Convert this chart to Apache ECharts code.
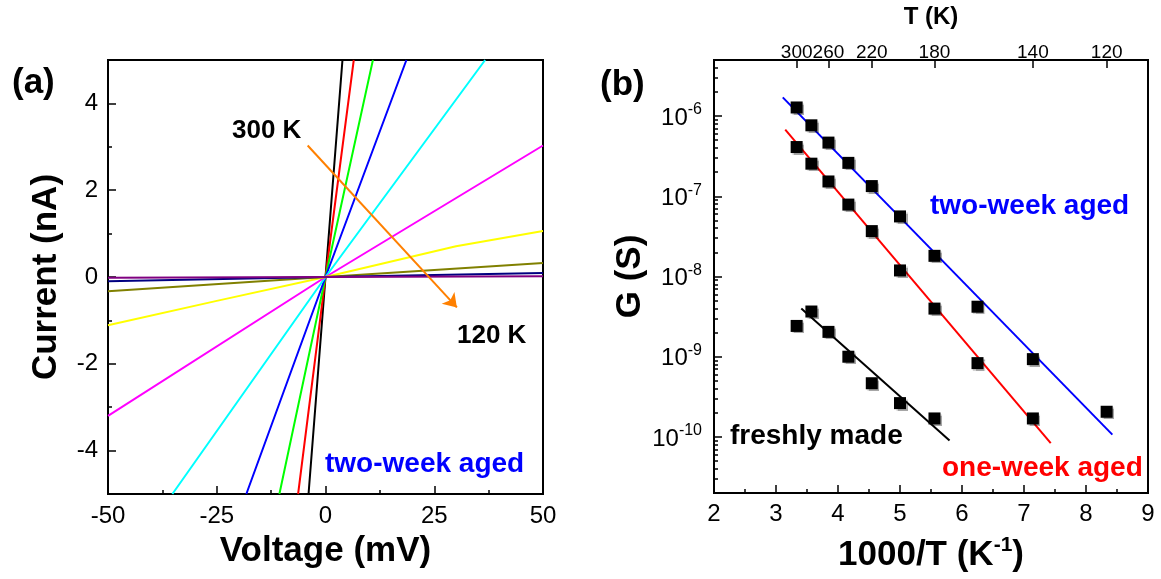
<!DOCTYPE html>
<html>
<head>
<meta charset="utf-8">
<title>I-V and G vs 1000/T</title>
<style>
html,body{margin:0;padding:0;background:#fff;}
#main{width:1161px;height:579px;}
</style>
<script src="https://cdn.jsdelivr.net/npm/echarts@6.0.0/dist/echarts.min.js"></script>
</head>
<body>
<div id="main"></div>
<script>
// (a) I-V curves of the two-week aged film, 300 K down to 120 K
var ivNames = ['300 K','280 K','260 K','240 K','220 K','200 K','180 K','160 K','140 K','120 K'];
var ivColors = ['#000000','#ff0000','#00ff00','#0000ff','#00ffff','#ff00ff','#ffff00','#808000','#000080','#800080'];
var iv300 = [[-3.9,-5],[0,0],[3.9,5]];
var iv280 = [[-6.3,-5],[0,0],[6.5,5]];
var iv260 = [[-10.6,-5],[0,0],[10.9,5]];
var iv240 = [[-18.2,-5],[0,0],[18.6,5]];
var iv220 = [[-35.2,-5],[0,0],[36.7,5]];
var iv200 = [[-50,-3.2],[0,0],[50,3.03]];
var iv180 = [[-50,-1.11],[-25,-0.55],[0,0],[30,0.71],[50,1.06]];
var iv160 = [[-50,-0.33],[0,0],[50,0.32]];
var iv140 = [[-50,-0.1],[0,0],[50,0.09]];
var iv120 = [[-50,-0.02],[0,0],[50,0.02]];
var ivCurves = [iv300,iv280,iv260,iv240,iv220,iv200,iv180,iv160,iv140,iv120];
var arrowFrom = [-4.1, 3.03];
var arrowTo = [30.2, -0.7];
var ivMajor = [-4,-2,0,2,4];
var ivMinor = [-3,-1,1,3];

// (b) conductance vs 1000/T
var invT = [3.333,3.571,3.846,4.167,4.545,5.0,5.556,6.25,7.143,8.333];
var gTwoWeek = [1.28e-6,7.67e-7,4.67e-7,2.61e-7,1.34e-7,5.61e-8,1.81e-8,4.2e-9,9.33e-10,2.06e-10];
var gOneWeek = [4.11e-7,2.55e-7,1.53e-7,7.88e-8,3.68e-8,1.19e-8,3.98e-9,8.32e-10,1.70e-10];
var gFresh = [2.42e-9,3.66e-9,2.04e-9,1.0e-9,4.67e-10,2.64e-10,1.70e-10];
var fitTwoWeek = [[3.109,1.71e-6],[8.425,1.07e-10]];
var fitOneWeek = [[3.149,6.76e-7],[7.431,8.36e-11]];
var fitFresh = [[3.408,3.98e-9],[5.799,9.0e-11]];
var topTemps = [300,260,220,180,140,120];
var gMin = 2e-11, gMax = 5e-6;

var FONT = "'Liberation Sans', Arial, sans-serif";

function pairs(xs, ys){
	return ys.map(function(y, i){ return [xs[i], y]; });
}
function tick(len, custom){
	var t = {show:true, inside:true, length:len, lineStyle:{color:'#000', width:1.5}};
	if (custom) t.customValues = custom;
	return t;
}
var line2 = {onZero:false, lineStyle:{color:'#000', width:2}};
var noLine = {show:false, onZero:false};
var nameStyle = {fontSize:35, fontWeight:'bold', color:'#000', fontFamily:FONT};
var labelStyle = function(size, margin){
	return {fontSize:size, color:'#000', fontFamily:FONT, margin:margin};
};

// top axis ticks sit at 1000/T
var topTicks = topTemps.map(function(t){ return 1000 / t; });
// log minor ticks 2..9 x 10^n, on a linear log10 overlay axis
var logMinor = [];
for (var n = -11; n <= -6; n++) {
	for (var k = 2; k <= 9; k++) {
		var lv = n + Math.log10(k);
		if (lv > Math.log10(gMin) && lv < Math.log10(gMax)) logMinor.push(lv);
	}
}

var series = [];
//I-V lines
ivCurves.forEach(function(d, i){
	series.push({
		type:'line', name:ivNames[i], xAxisIndex:0, yAxisIndex:0,
		data:d, showSymbol:false, symbol:'none', clip:true,
		lineStyle:{color:ivColors[i], width:2}, z:2
	});
});
//orange arrow
series.push({
	type:'lines', coordinateSystem:'cartesian2d', xAxisIndex:0, yAxisIndex:0,
	symbol:['none','arrow'], symbolSize:13,
	lineStyle:{color:'#ff8000', width:2, opacity:1},
	data:[{coords:[arrowFrom, arrowTo]}], z:5
});
//fits
[[fitTwoWeek,'#0000ff'],[fitOneWeek,'#ff0000'],[fitFresh,'#000000']].forEach(function(f){
	series.push({
		type:'line', xAxisIndex:1, yAxisIndex:2, data:f[0], showSymbol:false, symbol:'none',
		lineStyle:{color:f[1], width:2}, z:2
	});
});
//points
[gTwoWeek, gOneWeek, gFresh].forEach(function(g){
	series.push({
		type:'scatter', xAxisIndex:1, yAxisIndex:2, data:pairs(invT, g),
		symbol:'rect', symbolSize:12,
		itemStyle:{color:'#000', opacity:1, shadowColor:'rgba(0,0,0,0.35)', shadowBlur:1, shadowOffsetX:1.5, shadowOffsetY:1.5},
		z:4
	});
});

var chart = echarts.init(document.getElementById('main'));
chart.setOption({
	animation:false,
	backgroundColor:'#fff',
	grid:[
		{left:108, top:60, width:435, height:434, show:true, borderColor:'#000', borderWidth:2},
		{left:714, top:60, width:434, height:433, show:true, borderColor:'#000', borderWidth:2}
	],
	xAxis:[
		{
			gridIndex:0, type:'value', min:-50, max:50, interval:25,
			axisLine:line2, axisTick:tick(8),
			minorTick:{show:true, splitNumber:2, length:4, lineStyle:{color:'#000', width:1.5}},
			splitLine:{show:false}, minorSplitLine:{show:false},
			axisLabel:labelStyle(24, 10),
			name:'Voltage (mV)', nameLocation:'middle', nameGap:40, nameTextStyle:nameStyle
		},
		{
			gridIndex:1, type:'value', min:2, max:9, interval:1,
			axisLine:line2, axisTick:tick(8),
			minorTick:{show:true, splitNumber:2, length:4, lineStyle:{color:'#000', width:1.5}},
			splitLine:{show:false}, minorSplitLine:{show:false},
			axisLabel:labelStyle(24, 9),
			name:'{a|1000/T (K}{s|-1}{a|)}', nameLocation:'middle', nameGap:42,
			nameTextStyle:{
				fontSize:35, fontWeight:'bold', color:'#000', fontFamily:FONT,
				rich:{
					a:{fontSize:35, fontWeight:'bold', color:'#000', fontFamily:FONT, lineHeight:40},
					s:{fontSize:21, fontWeight:'bold', color:'#000', fontFamily:FONT, verticalAlign:'top', lineHeight:21}
				}
			}
		},
		{
			gridIndex:1, type:'value', position:'top', min:2, max:9,
			axisLine:line2, axisTick:tick(8, topTicks),
			splitLine:{show:false},
			axisLabel:{
				fontSize:19, color:'#000', fontFamily:FONT, margin:-2, customValues:topTicks,
				formatter:function(v){ return Math.round(1000 / v); }
			},
			name:'T (K)', nameLocation:'middle', nameGap:31,
			nameTextStyle:{fontSize:24, fontWeight:'bold', color:'#000', fontFamily:FONT}
		}
	],
	yAxis:[
		{
			gridIndex:0, type:'value', min:-5, max:5, position:'left',
			axisLine:line2, axisTick:tick(8, ivMajor),
			splitLine:{show:false},
			axisLabel:{fontSize:24, color:'#000', fontFamily:FONT, margin:10, customValues:ivMajor},
			name:'Current (nA)', nameLocation:'middle', nameGap:44, nameTextStyle:nameStyle
		},
		{
			gridIndex:0, type:'value', min:-5, max:5, position:'left', offset:0,
			axisLine:noLine, axisTick:tick(4, ivMinor),
			axisLabel:{show:false}, splitLine:{show:false}
		},
		{
			gridIndex:1, type:'log', logBase:10, min:gMin, max:gMax, position:'left',
			axisLine:line2, axisTick:tick(8),
			splitLine:{show:false}, minorTick:{show:false},
			axisLabel:{
				color:'#000', fontFamily:FONT, fontSize:24, margin:12,
				formatter:function(v){
					var lg = Math.log10(v), e = Math.round(lg);
					if (Math.abs(lg - e) > 1e-6) return '';
					return '{b|10}{s|' + e + '}';
				},
				rich:{
					b:{fontSize:24, color:'#000', fontFamily:FONT, lineHeight:28, verticalAlign:'bottom'},
					s:{fontSize:16, color:'#000', fontFamily:FONT, lineHeight:16, verticalAlign:'top'}
				}
			},
			name:'G (S)', nameLocation:'middle', nameGap:62, nameTextStyle:nameStyle
		},
		{
			gridIndex:1, type:'value', min:Math.log10(gMin), max:Math.log10(gMax), position:'left', offset:0,
			axisLine:noLine, axisTick:tick(4, logMinor),
			axisLabel:{show:false}, splitLine:{show:false}
		}
	],
	graphic:[
		{type:'text', x:12, y:83, z:100, style:{text:'(a)', font:'bold 35px ' + FONT, fill:'#000', verticalAlign:'middle'}},
		{type:'text', x:232, y:131, z:100, style:{text:'300 K', font:'bold 26px ' + FONT, fill:'#000', verticalAlign:'middle'}},
		{type:'text', x:457, y:336, z:100, style:{text:'120 K', font:'bold 26px ' + FONT, fill:'#000', verticalAlign:'middle'}},
		{type:'text', x:325, y:464, z:100, style:{text:'two-week aged', font:'bold 28px ' + FONT, fill:'#0000ff', verticalAlign:'middle'}},
		{type:'text', x:600, y:85, z:100, style:{text:'(b)', font:'bold 35px ' + FONT, fill:'#000', verticalAlign:'middle'}},
		{type:'text', x:930, y:206, z:100, style:{text:'two-week aged', font:'bold 28px ' + FONT, fill:'#0000ff', verticalAlign:'middle'}},
		{type:'text', x:942, y:468, z:100, style:{text:'one-week aged', font:'bold 28px ' + FONT, fill:'#ff0000', verticalAlign:'middle'}},
		{type:'text', x:730, y:436, z:100, style:{text:'freshly made', font:'bold 28px ' + FONT, fill:'#000', verticalAlign:'middle'}}
	],
	series:series
});
</script>
</body>
</html>
